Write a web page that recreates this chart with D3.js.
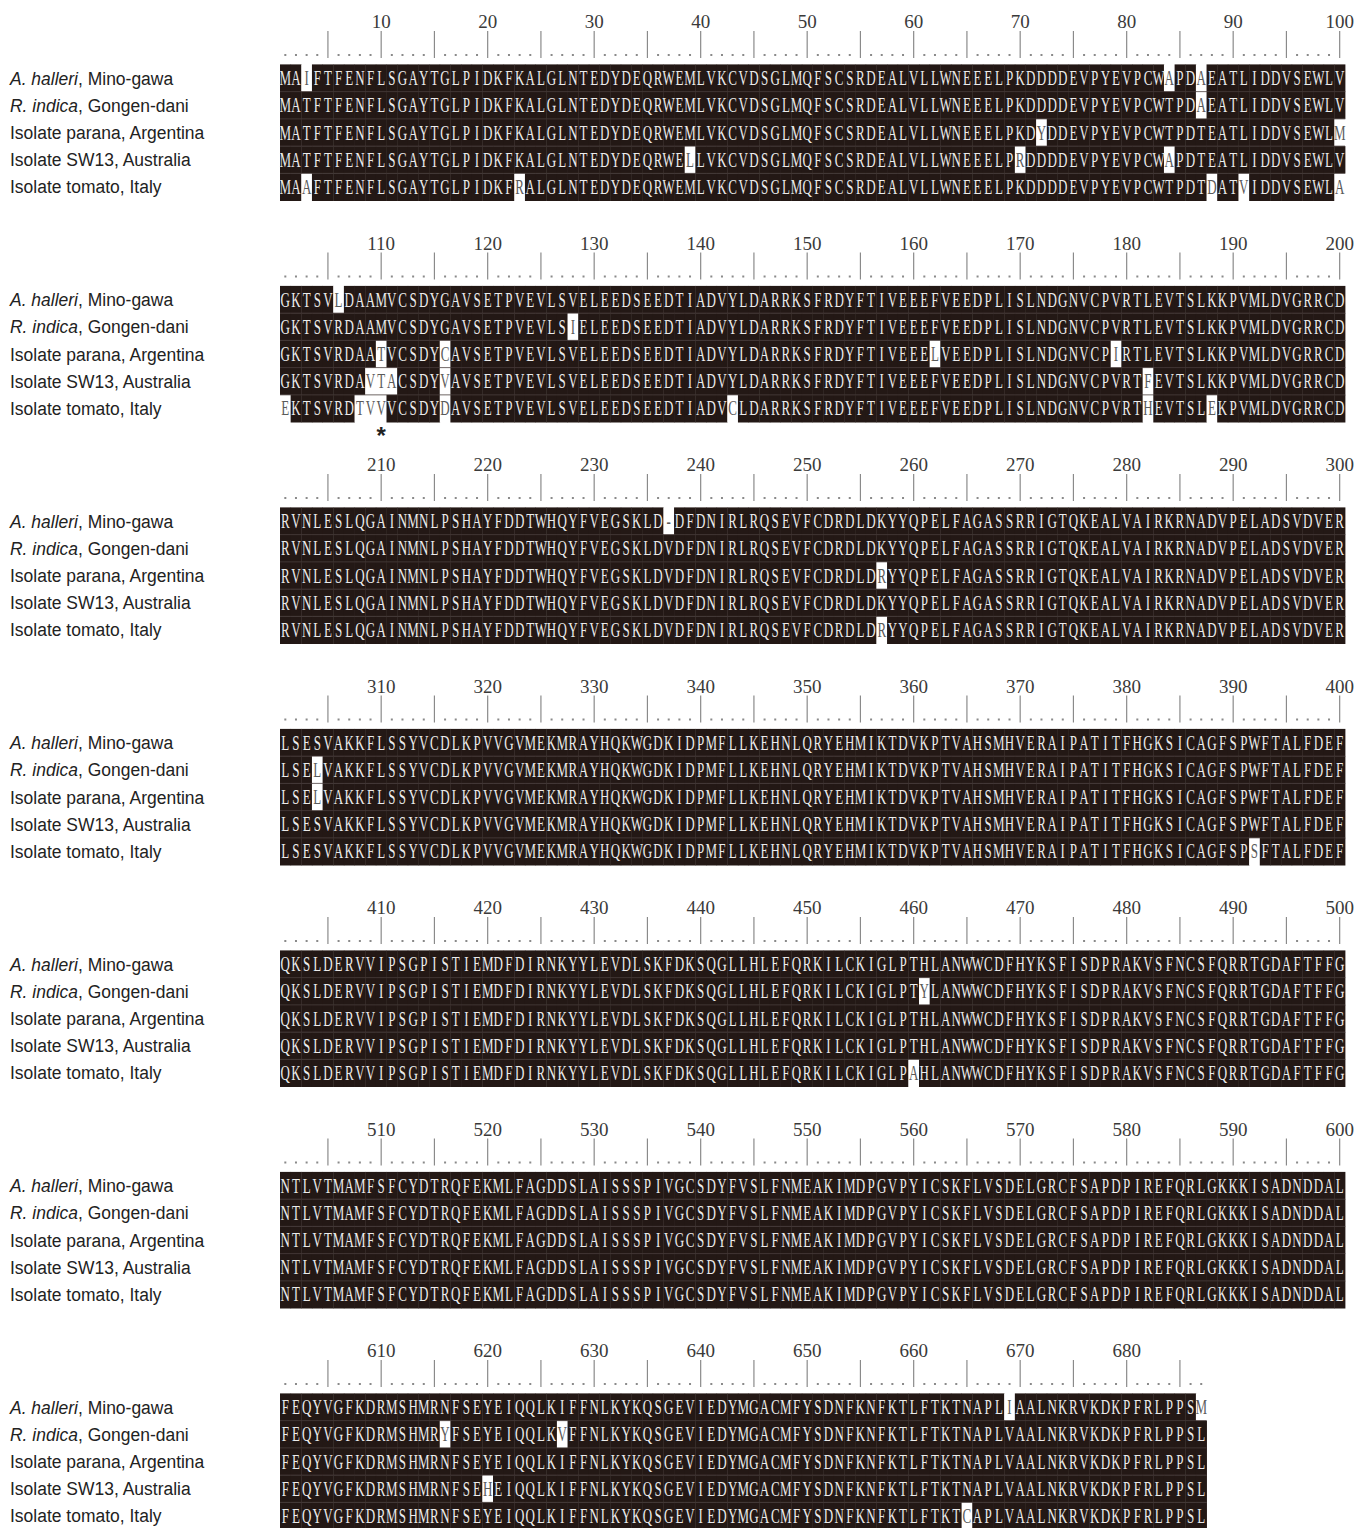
<!DOCTYPE html>
<html>
<head>
<meta charset="utf-8">
<script src="https://cdn.jsdelivr.net/npm/d3@7/dist/d3.min.js"></script>
<style>
  body { margin: 0; background: #fff; }
</style>
</head>
<body>
<svg width="1366" height="1528"></svg>
<script>
// names of the isolates (italic part + rest)
const labelItalic = ["A. halleri", "R. indica", "", "", ""];
const labelRest = [", Mino-gawa", ", Gongen-dani", "Isolate parana, Argentina", "Isolate SW13, Australia", "Isolate tomato, Italy"];

// aligned sequences, one string per 100 residues
const halleri = [
  "MAIFTFENFLSGAYTGLPIDKFKALGLNTEDYDEQRWEMLVKCVDSGLMQFSCSRDEALVLLWNEEELPKDDDDEVPYEVPCWAPDAEATLIDDVSEWLV",
  "GKTSVLDAAMVCSDYGAVSETPVEVLSVELEEDSEEDTIADVYLDARRKSFRDYFTIVEEEFVEEDPLISLNDGNVCPVRTLEVTSLKKPVMLDVGRRCD",
  "RVNLESLQGAINMNLPSHAYFDDTWHQYFVEGSKLD-DFDNIRLRQSEVFCDRDLDKYYQPELFAGASSRRIGTQKEALVAIRKRNADVPELADSVDVER",
  "LSESVAKKFLSSYVCDLKPVVGVMEKMRAYHQKWGDKIDPMFLLKEHNLQRYEHMIKTDVKPTVAHSMHVERAIPATITFHGKSICAGFSPWFTALFDEF",
  "QKSLDERVVIPSGPISTIEMDFDIRNKYYLEVDLSKFDKSQGLLHLEFQRKILCKIGLPTHLANWWCDFHYKSFISDPRAKVSFNCSFQRRTGDAFTFFG",
  "NTLVTMAMFSFCYDTRQFEKMLFAGDDSLAISSSPIVGCSDYFVSLFNMEAKIMDPGVPYICSKFLVSDELGRCFSAPDPIREFQRLGKKKISADNDDAL",
  "FEQYVGFKDRMSHMRNFSEYEIQQLKIFFNLKYKQSGEVIEDYMGACMFYSDNFKNFKTLFTKTNAPLIAALNKRVKDKPFRLPPSM"
];
const indica = [
  "MATFTFENFLSGAYTGLPIDKFKALGLNTEDYDEQRWEMLVKCVDSGLMQFSCSRDEALVLLWNEEELPKDDDDEVPYEVPCWTPDAEATLIDDVSEWLV",
  "GKTSVRDAAMVCSDYGAVSETPVEVLSIELEEDSEEDTIADVYLDARRKSFRDYFTIVEEEFVEEDPLISLNDGNVCPVRTLEVTSLKKPVMLDVGRRCD",
  "RVNLESLQGAINMNLPSHAYFDDTWHQYFVEGSKLDVDFDNIRLRQSEVFCDRDLDKYYQPELFAGASSRRIGTQKEALVAIRKRNADVPELADSVDVER",
  "LSELVAKKFLSSYVCDLKPVVGVMEKMRAYHQKWGDKIDPMFLLKEHNLQRYEHMIKTDVKPTVAHSMHVERAIPATITFHGKSICAGFSPWFTALFDEF",
  "QKSLDERVVIPSGPISTIEMDFDIRNKYYLEVDLSKFDKSQGLLHLEFQRKILCKIGLPTYLANWWCDFHYKSFISDPRAKVSFNCSFQRRTGDAFTFFG",
  "NTLVTMAMFSFCYDTRQFEKMLFAGDDSLAISSSPIVGCSDYFVSLFNMEAKIMDPGVPYICSKFLVSDELGRCFSAPDPIREFQRLGKKKISADNDDAL",
  "FEQYVGFKDRMSHMRYFSEYEIQQLKVFFNLKYKQSGEVIEDYMGACMFYSDNFKNFKTLFTKTNAPLVAALNKRVKDKPFRLPPSL"
];
const parana = [
  "MATFTFENFLSGAYTGLPIDKFKALGLNTEDYDEQRWEMLVKCVDSGLMQFSCSRDEALVLLWNEEELPKDYDDEVPYEVPCWTPDTEATLIDDVSEWLM",
  "GKTSVRDAATVCSDYCAVSETPVEVLSVELEEDSEEDTIADVYLDARRKSFRDYFTIVEEELVEEDPLISLNDGNVCPIRTLEVTSLKKPVMLDVGRRCD",
  "RVNLESLQGAINMNLPSHAYFDDTWHQYFVEGSKLDVDFDNIRLRQSEVFCDRDLDRYYQPELFAGASSRRIGTQKEALVAIRKRNADVPELADSVDVER",
  "LSELVAKKFLSSYVCDLKPVVGVMEKMRAYHQKWGDKIDPMFLLKEHNLQRYEHMIKTDVKPTVAHSMHVERAIPATITFHGKSICAGFSPWFTALFDEF",
  "QKSLDERVVIPSGPISTIEMDFDIRNKYYLEVDLSKFDKSQGLLHLEFQRKILCKIGLPTHLANWWCDFHYKSFISDPRAKVSFNCSFQRRTGDAFTFFG",
  "NTLVTMAMFSFCYDTRQFEKMLFAGDDSLAISSSPIVGCSDYFVSLFNMEAKIMDPGVPYICSKFLVSDELGRCFSAPDPIREFQRLGKKKISADNDDAL",
  "FEQYVGFKDRMSHMRNFSEYEIQQLKIFFNLKYKQSGEVIEDYMGACMFYSDNFKNFKTLFTKTNAPLVAALNKRVKDKPFRLPPSL"
];
const sw13 = [
  "MATFTFENFLSGAYTGLPIDKFKALGLNTEDYDEQRWELLVKCVDSGLMQFSCSRDEALVLLWNEEELPRDDDDEVPYEVPCWAPDTEATLIDDVSEWLV",
  "GKTSVRDAVTACSDYVAVSETPVEVLSVELEEDSEEDTIADVYLDARRKSFRDYFTIVEEEFVEEDPLISLNDGNVCPVRTFEVTSLKKPVMLDVGRRCD",
  "RVNLESLQGAINMNLPSHAYFDDTWHQYFVEGSKLDVDFDNIRLRQSEVFCDRDLDKYYQPELFAGASSRRIGTQKEALVAIRKRNADVPELADSVDVER",
  "LSESVAKKFLSSYVCDLKPVVGVMEKMRAYHQKWGDKIDPMFLLKEHNLQRYEHMIKTDVKPTVAHSMHVERAIPATITFHGKSICAGFSPWFTALFDEF",
  "QKSLDERVVIPSGPISTIEMDFDIRNKYYLEVDLSKFDKSQGLLHLEFQRKILCKIGLPTHLANWWCDFHYKSFISDPRAKVSFNCSFQRRTGDAFTFFG",
  "NTLVTMAMFSFCYDTRQFEKMLFAGDDSLAISSSPIVGCSDYFVSLFNMEAKIMDPGVPYICSKFLVSDELGRCFSAPDPIREFQRLGKKKISADNDDAL",
  "FEQYVGFKDRMSHMRNFSEHEIQQLKIFFNLKYKQSGEVIEDYMGACMFYSDNFKNFKTLFTKTNAPLVAALNKRVKDKPFRLPPSL"
];
const tomato = [
  "MAAFTFENFLSGAYTGLPIDKFRALGLNTEDYDEQRWEMLVKCVDSGLMQFSCSRDEALVLLWNEEELPKDDDDEVPYEVPCWTPDTDATVIDDVSEWLA",
  "EKTSVRDTVVVCSDYDAVSETPVEVLSVELEEDSEEDTIADVCLDARRKSFRDYFTIVEEEFVEEDPLISLNDGNVCPVRTHEVTSLEKPVMLDVGRRCD",
  "RVNLESLQGAINMNLPSHAYFDDTWHQYFVEGSKLDVDFDNIRLRQSEVFCDRDLDRYYQPELFAGASSRRIGTQKEALVAIRKRNADVPELADSVDVER",
  "LSESVAKKFLSSYVCDLKPVVGVMEKMRAYHQKWGDKIDPMFLLKEHNLQRYEHMIKTDVKPTVAHSMHVERAIPATITFHGKSICAGFSPSFTALFDEF",
  "QKSLDERVVIPSGPISTIEMDFDIRNKYYLEVDLSKFDKSQGLLHLEFQRKILCKIGLPAHLANWWCDFHYKSFISDPRAKVSFNCSFQRRTGDAFTFFG",
  "NTLVTMAMFSFCYDTRQFEKMLFAGDDSLAISSSPIVGCSDYFVSLFNMEAKIMDPGVPYICSKFLVSDELGRCFSAPDPIREFQRLGKKKISADNDDAL",
  "FEQYVGFKDRMSHMRNFSEYEIQQLKIFFNLKYKQSGEVIEDYMGACMFYSDNFKNFKTLFTKTCAPLVAALNKRVKDKPFRLPPSL"
];
// residue numbers marked with an asterisk
const starPositions = [110];

const seqs = [halleri, indica, parana, sw13, tomato].map(b => b.join(""));
const seqLen = seqs[0].length;
seqs.forEach((s, i) => { if (s.length != seqLen) console.log("length mismatch", i, s.length); });

const blockSize = 100;
const nBlocks = Math.ceil(seqLen / blockSize);

// majority residue per column (ties go to the first sequence that has it)
const consensus = d3.range(seqLen).map(i => {
    const counts = new Map();
    seqs.forEach(s => counts.set(s[i], (counts.get(s[i]) || 0) + 1));
    let best = null, bestN = 0;
    seqs.forEach(s => { if (counts.get(s[i]) > bestN) { best = s[i]; bestN = counts.get(s[i]); } });
    return best;
});

const svg = d3.select("svg");

const xScale = d3.scaleBand().domain(d3.range(1, blockSize + 1)).range([280, 1345]);
const blockY = d3.scaleLinear().domain([0, 1]).range([21, 242.5]);
const rowY = d3.scaleBand().domain(d3.range(seqs.length)).range([43.4, 179.6]);
const cw = xScale.bandwidth();
const rh = rowY.bandwidth();

for (let b = 0; b < nBlocks; b++) {
    const top = blockY(b);
    const start = b * blockSize;
    const len = Math.min(blockSize, seqLen - start);
    const cols = d3.range(1, len + 1);
    const g = svg.append("g").attr("transform", `translate(0, ${top})`);

    // position numbers
    g.selectAll(".num")
        .data(cols.filter(c => c % 10 == 0))
        .enter().append("text")
        .attr("x", c => xScale(c) + cw / 2)
        .attr("y", 7)
        .attr("text-anchor", "middle")
        .attr("font-family", "Liberation Serif, Times New Roman, serif")
        .attr("font-size", 19)
        .attr("fill", "#3a3a3a")
        .text(c => start + c);

    // ruler: dots and bars
    g.selectAll(".bar")
        .data(cols.filter(c => c % 5 == 0))
        .enter().append("line")
        .attr("x1", c => xScale(c) + cw / 2)
        .attr("x2", c => xScale(c) + cw / 2)
        .attr("y1", 10).attr("y2", 37)
        .attr("stroke", "#8a8a8a").attr("stroke-width", 1.2);
    g.selectAll(".dot")
        .data(cols.filter(c => c % 5 != 0))
        .enter().append("rect")
        .attr("x", c => xScale(c) + cw / 2 - 1)
        .attr("y", 33)
        .attr("width", 2).attr("height", 2)
        .attr("fill", "#8a8a8a");

    // rows
    seqs.forEach((s, r) => {
        const y0 = rowY(r);
        const residues = cols.map(c => ({ c: c, aa: s[start + c - 1], same: s[start + c - 1] == consensus[start + c - 1] }));

        g.selectAll(null)
            .data(residues)
            .enter().append("rect")
            .attr("x", d => xScale(d.c))
            .attr("y", y0)
            .attr("width", cw + 0.4)
            .attr("height", rh + 0.4)
            .attr("fill", d => d.same ? "#231815" : "#ffffff");

        g.selectAll(null)
            .data(residues)
            .enter().append("text")
            .attr("transform", d => `translate(${xScale(d.c) + cw / 2}, ${y0 + rh / 2 + 7}) scale(0.62, 1)`)
            .attr("text-anchor", "middle")
            .attr("font-family", "Liberation Serif, Times New Roman, serif")
            .attr("font-size", 21)
            .attr("fill", d => d.same ? "#ececec" : "#5a5a5a")
            .text(d => d.aa);

        // sequence name
        const t = g.append("text")
            .attr("transform", `translate(10, ${y0 + rh / 2 + 6.5}) scale(0.92, 1)`)
            .attr("font-family", "Liberation Sans, Arial, sans-serif")
            .attr("font-size", 19)
            .attr("fill", "#222");
        if (labelItalic[r]) t.append("tspan").attr("font-style", "italic").text(labelItalic[r]);
        t.append("tspan").text(labelRest[r]);
    });

    // faint lines between rows
    g.selectAll(".sep")
        .data(d3.range(1, seqs.length))
        .enter().append("line")
        .attr("x1", 280).attr("x2", xScale(len) + cw)
        .attr("y1", r => rowY(r)).attr("y2", r => rowY(r))
        .attr("stroke", "#4a3f3d").attr("stroke-width", 0.8);

    // asterisks
    g.selectAll(".star")
        .data(starPositions.filter(p => p > start && p <= start + len))
        .enter().append("text")
        .attr("x", p => xScale(p - start) + cw / 2)
        .attr("y", rowY(seqs.length - 1) + rh + 22)
        .attr("text-anchor", "middle")
        .attr("font-family", "Liberation Sans, Arial, sans-serif")
        .attr("font-weight", "bold")
        .attr("font-size", 24)
        .attr("fill", "#222")
        .text("*");
}
</script>
</body>
</html>
